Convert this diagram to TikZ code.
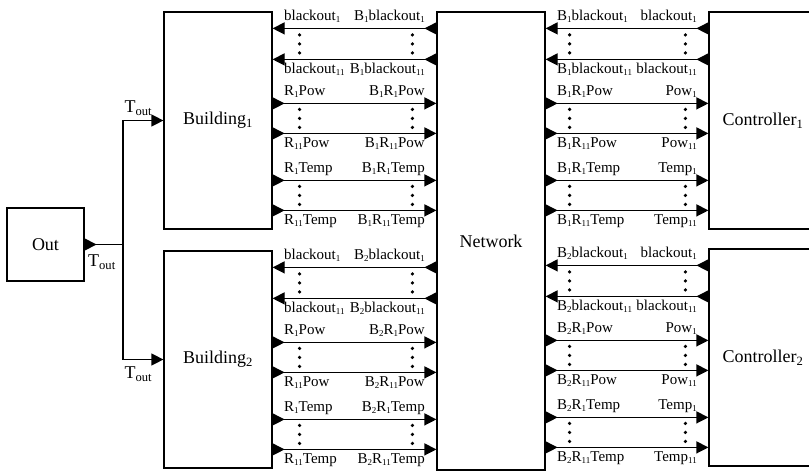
\documentclass[tikz,border=0pt]{standalone}
\usepackage{fontspec}
\setmainfont{Liberation Serif}
\usetikzlibrary{arrows.meta,calc}
\newcommand{\lsub}[1]{\raisebox{-2.5pt}{\fontsize{9}{10}\selectfont#1}}
\tikzset{
  outp/.tip={Triangle[reversed,length=12pt,width=12pt]},
  inp/.tip={Triangle[length=12pt,width=12pt]},
  blk/.style={draw,line width=1.2pt,minimum width=108pt,minimum height=217pt,inner sep=0pt,font=\fontsize{18}{21}\selectfont},
  wire/.style={line width=1.2pt},
  tor/.style={wire,outp-inp},
  tol/.style={wire,inp-outp},
  lbl/.style={inner sep=0pt,font=\fontsize{15}{18}\selectfont},
  tlbl/.style={inner sep=0pt,font=\fontsize{18}{21}\selectfont,anchor=base west},
  upl/.style={lbl,anchor=base west,xshift=11pt,yshift=8pt},
  upr/.style={lbl,anchor=base east,xshift=-11pt,yshift=8pt},
  dnl/.style={lbl,anchor=base west,xshift=11pt,yshift=-14pt},
  dnr/.style={lbl,anchor=base east,xshift=-11pt,yshift=-14pt}
}
\begin{document}
\begin{tikzpicture}[x=1pt,y=-1pt]
\useasboundingbox (0,0) rectangle (809,472);
\node[blk,minimum width=77pt,minimum height=73pt] (out) at (45.5,244.5) {Out};
\node[blk] (b1) at (218,120.5) {Building\textsubscript{1}};
\node[blk] (b2) at (218,359.5) {Building\textsubscript{2}};
\node[blk,minimum height=458pt] (net) at (491,241) {Network};
\node[blk] (c1) at (763,120.5) {Controller\textsubscript{1}};
\node[blk] (c2) at (763,357.5) {Controller\textsubscript{2}};
\coordinate (j) at (123,244.5);
\draw[wire,outp-] (out.east) -- (j) node[pos=0,tlbl,xshift=3pt,yshift=-22pt]{T\textsubscript{out}};
\draw[wire,-inp] (j) |- (b1.west) node[pos=0.5,tlbl,xshift=1pt,yshift=8pt]{T\textsubscript{out}};
\draw[wire,-inp] (j) |- (b2.west) node[pos=0.5,tlbl,xshift=1pt,yshift=-19pt]{T\textsubscript{out}};
\foreach \k in {1,2}{
  \foreach \y/\d/\ls/\rs/\lt/\rt in {
    17/tol/upl/upr/{blackout\lsub{1}}/{B\lsub{\k}blackout\lsub{1}},
    48/tol/dnl/dnr/{blackout\lsub{11}}/{B\lsub{\k}blackout\lsub{11}},
    92/tor/upl/upr/{R\lsub{1}Pow}/{B\lsub{\k}R\lsub{1}Pow},
    122/tor/dnl/dnr/{R\lsub{11}Pow}/{B\lsub{\k}R\lsub{11}Pow},
    169/tor/upl/upr/{R\lsub{1}Temp}/{B\lsub{\k}R\lsub{1}Temp},
    199/tor/dnl/dnr/{R\lsub{11}Temp}/{B\lsub{\k}R\lsub{11}Temp}}{
    \coordinate (p) at ($(b\k.north east)+(0,\y)$);
    \draw[\d] (p) -- (net.west |- p) node[pos=0,\ls]{\lt} node[pos=1,\rs]{\rt};
  }
  \foreach \y/\d/\ls/\rs/\lt/\rt in {
    17/tol/upl/upr/{B\lsub{\k}blackout\lsub{1}}/{blackout\lsub{1}},
    48/tol/dnl/dnr/{B\lsub{\k}blackout\lsub{11}}/{blackout\lsub{11}},
    92/tor/upl/upr/{B\lsub{\k}R\lsub{1}Pow}/{Pow\lsub{1}},
    122/tor/dnl/dnr/{B\lsub{\k}R\lsub{11}Pow}/{Pow\lsub{11}},
    169/tor/upl/upr/{B\lsub{\k}R\lsub{1}Temp}/{Temp\lsub{1}},
    199/tor/dnl/dnr/{B\lsub{\k}R\lsub{11}Temp}/{Temp\lsub{11}}}{
    \coordinate (p) at ($(c\k.north west)+(0,\y)$);
    \draw[\d] (net.east |- p) -- (p) node[pos=0,\ls]{\lt} node[pos=1,\rs]{\rt};
  }
  \foreach \y in {32.5,107,184}
    \foreach \d in {-9,0,9}{
      \fill ($(b\k.north east)+(27,\y+\d)$) circle (1.8pt);
      \fill ($(net.west |- b\k.north)+(-24,\y+\d)$) circle (1.8pt);
      \fill ($(net.east |- c\k.north)+(24,\y+\d)$) circle (1.8pt);
      \fill ($(c\k.north west)+(-23,\y+\d)$) circle (1.8pt);
    }
}
\end{tikzpicture}
\end{document}
